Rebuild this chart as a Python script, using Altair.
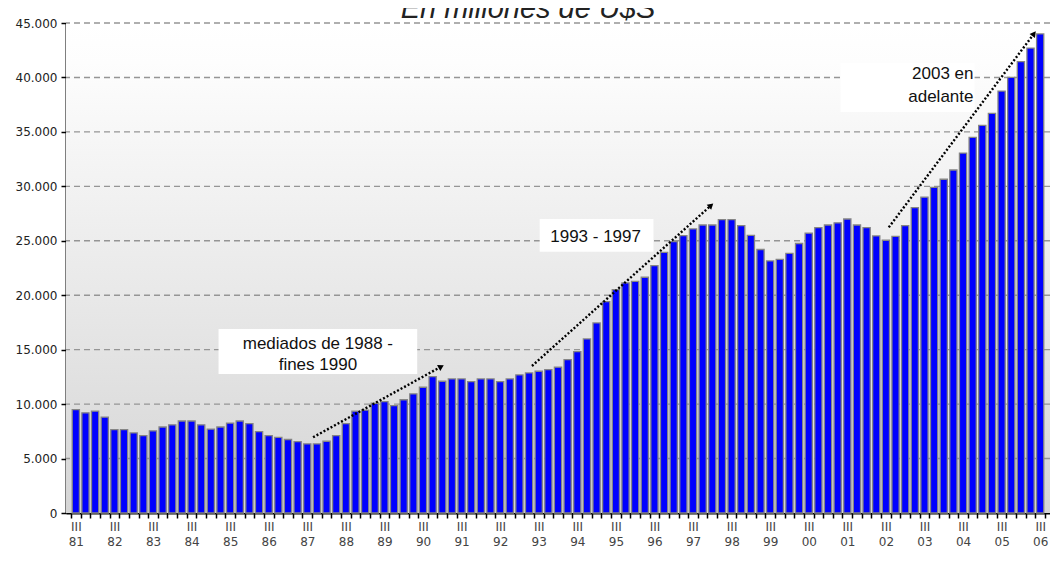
import altair as alt
import pandas as pd

# ---- data ----
years = ["81", "82", "83", "84", "85", "86", "87", "88", "89", "90", "91", "92", "93",
         "94", "95", "96", "97", "98", "99", "00", "01", "02", "03", "04", "05", "06"]
quarter_names = ["I", "II", "III", "IV"]

values = [
    9500, 9200,                      # 81 III-IV
    9350, 8800, 7650, 7650,          # 82
    7350, 7100, 7550, 7900,          # 83
    8100, 8450, 8450, 8100,          # 84
    7700, 7900, 8250, 8450,          # 85
    8200, 7480, 7100, 6950,          # 86
    6750, 6560, 6350, 6350,          # 87
    6590, 7100, 8200, 9350,          # 88
    9450, 10080, 10230, 9860,        # 89
    10400, 10940, 11550, 12530,      # 90
    12100, 12310, 12310, 12070,      # 91
    12310, 12310, 12070, 12310,      # 92
    12680, 12860, 13020, 13170,      # 93
    13390, 14090, 14820, 15990,      # 94
    17460, 19420, 20520, 21130,      # 95
    21280, 21650, 22720, 23940,      # 96
    24920, 25470, 26090, 26450,      # 97
    26450, 26940, 26940, 26400,      # 98
    25500, 24200, 23150, 23300,      # 99
    23850, 24750, 25700, 26200,      # 00
    26450, 26650, 27000, 26450,      # 01
    26200, 25450, 25050, 25400,      # 02
    26400, 28050, 29000, 29900,      # 03
    30650, 31500, 33050, 34500,      # 04
    35600, 36700, 38750, 40000,      # 05
    41450, 42700, 44000,             # 06 I-III
]

y_ticks = [0, 5000, 10000, 15000, 20000, 25000, 30000, 35000, 40000, 45000]

# annotation arrows (bar index / value coordinates)
arrow_x1 = [24.6, 47.3, 84.3]
arrow_y1 = [6950, 13500, 26230]
arrow_x2 = [37.8, 65.8, 99.3]
arrow_y2 = [13400, 28190, 43950]
arrow_ang = [61, 48, 37]

# annotation boxes
box_x1 = [14.8, 48.1, 79.3]
box_x2 = [35.4, 59.9, 93.2]
box_y1 = [16900, 27000, 41320]
box_y2 = [12760, 23990, 36820]

note_text = ["mediados de 1988 -", "fines 1990", "1993 - 1997", "2003 en", "adelante"]
note_x = [25.1, 25.1, 53.9, 89.9, 89.7]
note_y = [15560, 13590, 25340, 40310, 38250]

# ---- build tables ----
period_q, period_y = [], []
for yy in years:
    for q in quarter_names:
        period_q.append(q)
        period_y.append(yy)
period_q = period_q[2:2 + len(values)]
period_y = period_y[2:2 + len(values)]

df = pd.DataFrame({
    "idx": list(range(len(values))),
    "value": values,
    "quarter": period_q,
    "year": period_y,
})
q3_idx = [i for i, q in enumerate(period_q) if q == "III"]
q3_years = [period_y[i] for i in q3_idx]

grid_df = pd.DataFrame({"g": y_ticks[1:]})
arrows_df = pd.DataFrame({"x1": arrow_x1, "y1": arrow_y1, "x2": arrow_x2, "y2": arrow_y2, "ang": arrow_ang})
boxes_df = pd.DataFrame({"x1": box_x1, "x2": box_x2, "y1": box_y1, "y2": box_y2})
notes_df = pd.DataFrame({"t": note_text, "x": note_x, "y": note_y})

W, H = 984, 490
N = len(values)
step = W / N
xs = alt.Scale(domain=[-0.5, N - 0.5], nice=False, zero=False)
ys = alt.Scale(domain=[0, 45000], nice=False)

# ticks sit on the boundaries between bars; labels are shifted to the bar centre
tick_vals = [i - 0.5 for i in range(N + 1)]
q3_js = "[" + ",".join(str(i) for i in q3_idx) + "]"
yr_js = "[" + ",".join("'" + y + "'" for y in q3_years) + "]"
x_label_expr = (f"indexof({q3_js}, datum.value + 0.5) >= 0 ? "
                f"['III', {yr_js}[indexof({q3_js}, datum.value + 0.5)]] : ''")

x_axis = alt.Axis(values=tick_vals, labelExpr=x_label_expr, labelOffset=step / 2,
                  grid=False, tickSize=5, tickColor="black", tickWidth=1.5,
                  domainColor="black", domainWidth=2, labelPadding=3,
                  labelFont="DejaVu Sans", labelFontSize=12, labelColor="#444",
                  labelLineHeight=15, labelOverlap=False, labelFlush=False,
                  labelBound=False, labelAngle=0, title=None)
y_axis = alt.Axis(values=y_ticks, labelExpr="replace(format(datum.value, ','), ',', '.')",
                  grid=False, tickSize=5, tickColor="black", tickWidth=1.5,
                  domainColor="black", domainWidth=2, labelPadding=4,
                  labelFont="DejaVu Sans", labelFontSize=12, labelColor="#222", title=None)


def X(field):
    return alt.X(field, scale=xs, axis=x_axis)


def Y(field):
    return alt.Y(field, scale=ys, axis=y_axis)


bg = alt.Chart(pd.DataFrame({"a": [0]})).mark_rect(
    color=alt.Gradient(gradient="linear",
                       stops=[alt.GradientStop(color="#ffffff", offset=0),
                              alt.GradientStop(color="#fdfdfd", offset=0.08),
                              alt.GradientStop(color="#d5d5d5", offset=1)],
                       x1=0, x2=0, y1=0, y2=1)
).encode(x=alt.value(0), x2=alt.value(W), y=alt.value(0), y2=alt.value(H))

grid = alt.Chart(grid_df).mark_rule(color="#959595", strokeDash=[6, 4], strokeWidth=1.4).encode(
    y=Y("g:Q")
)

bars = alt.Chart(df).mark_bar(size=7.2, color="#0000ff", stroke="#858585", strokeWidth=1.3).encode(
    x=X("idx:Q"),
    y=Y("value:Q"),
)

boxes = alt.Chart(boxes_df).mark_rect(color="white").encode(
    x=X("x1:Q"), x2="x2:Q",
    y=Y("y1:Q"), y2="y2:Q",
)

arrows = alt.Chart(arrows_df).mark_rule(color="black", strokeDash=[2, 2], strokeWidth=2.4).encode(
    x=X("x1:Q"), x2="x2:Q",
    y=Y("y1:Q"), y2="y2:Q",
)

heads = alt.Chart(arrows_df).mark_point(shape="triangle", filled=True, size=45, color="black", opacity=1).encode(
    x=X("x2:Q"),
    y=Y("y2:Q"),
    angle=alt.Angle("ang:Q", scale=None),
)

notes = alt.Chart(notes_df).mark_text(font="Liberation Sans", fontSize=17, color="#111",
                                      align="center", baseline="middle").encode(
    x=X("x:Q"),
    y=Y("y:Q"),
    text="t:N",
)

title = alt.Chart(pd.DataFrame({"t": ["En millones de U$S"]})).mark_text(
    font="Liberation Sans", fontSize=29, fontStyle="italic", color="#222",
    align="center", baseline="alphabetic"
).encode(x=alt.value(462), y=alt.value(-5), text="t:N")

chart = alt.layer(bg, grid, bars, boxes, arrows, heads, notes, title).properties(
    width=W, height=H,
    autosize=alt.AutoSizeParams(type="none"),
    padding={"left": 58, "top": 15, "right": 0, "bottom": 40},
).configure_view(stroke=None)

chart.save("out.html", embed_options={"renderer": "svg", "actions": False})
